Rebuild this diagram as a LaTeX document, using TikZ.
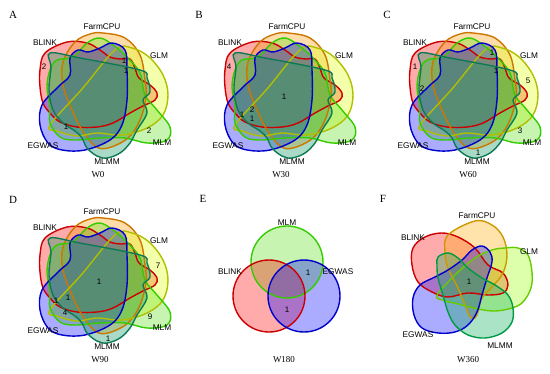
\documentclass[tikz,border=0pt]{standalone}
\usepackage{fontspec}
\setmainfont{Liberation Serif}
\newfontfamily\lsans{Liberation Sans}
\definecolor{cBL}{HTML}{CC0000}\definecolor{fBL}{HTML}{FF0000}
\definecolor{cFC}{HTML}{CC7700}\definecolor{fFC}{HTML}{FF9900}
\definecolor{cGL}{HTML}{B0BF00}\definecolor{fGL}{HTML}{DDFF00}
\definecolor{cML}{HTML}{33CC00}\definecolor{fML}{HTML}{55DD11}
\definecolor{cMM}{HTML}{0E7A55}\definecolor{fMM}{HTML}{119966}
\definecolor{cEG}{HTML}{0000CC}\definecolor{fEG}{HTML}{0000FF}
\definecolor{cFF}{HTML}{CC9900}\definecolor{fFF}{HTML}{FFAA00}
\definecolor{cFG}{HTML}{66CC00}\definecolor{fFG}{HTML}{99FF00}
\definecolor{cFM}{HTML}{009944}\definecolor{fFM}{HTML}{00AA55}
\tikzset{
  setlab/.style={font=\lsans\fontsize{8.3}{9}\selectfont, inner sep=0pt},
  num/.style={font=\lsans\fontsize{8}{9}\selectfont, inner sep=0pt},
  ttl/.style={font=\fontsize{9}{10}\selectfont, inner sep=0pt},
  panel/.style={font=\fontsize{11}{12}\selectfont, inner sep=0pt},
  FBL/.style={fill=fBL, fill opacity=0.33}, SBL/.style={draw=cBL, line width=1.4pt},
  FFC/.style={fill=fFC, fill opacity=0.33}, SFC/.style={draw=cFC, line width=1.4pt},
  FGL/.style={fill=fGL, fill opacity=0.33}, SGL/.style={draw=cGL, line width=1.4pt},
  FML/.style={fill=fML, fill opacity=0.33}, SML/.style={draw=cML, line width=1.4pt},
  FMM/.style={fill=fMM, fill opacity=0.36}, SMM/.style={draw=cMM, line width=1.4pt},
  FEG/.style={fill=fEG, fill opacity=0.33}, SEG/.style={draw=cEG, line width=1.4pt},
  FFF/.style={fill=fFF, fill opacity=0.33}, SFF/.style={draw=cFF, line width=1.4pt},
  FFG/.style={fill=fFG, fill opacity=0.33}, SFG/.style={draw=cFG, line width=1.4pt},
  FFM/.style={fill=fFM, fill opacity=0.33}, SFM/.style={draw=cFM, line width=1.4pt},
  wave/.style={smooth cycle, tension=0.6},
}
\newcommand\sixpaths[1]{%
  \path[#1BL] plot[wave] coordinates {(-30,-53) (-10,-52) (3,-45) (13,-38) (24,-36) (33,-36) (38,-27) (42,-17) (53,-10) (60,-2) (58,5) (46,11) (33,18) (16,28) (0,32) (-20,32) (-37,27) (-47,18) (-54,8) (-57,-8) (-57,-25) (-52,-42)};
  \path[#1FC] plot[wave] coordinates {(6,-62) (28,-57) (43,-40) (48,-15) (49,2) (43,25) (31,43) (11,53) (-2,51) (-15,35) (-25,15) (-34,-10) (-34,-33) (-22,-53) (-7,-61)};
  \path[#1GL] plot[wave] coordinates {(18,-45) (35,-47) (52,-38) (66,-20) (71,0) (66,20) (50,33) (25,40) (0,38) (-20,41) (-40,36) (-47,30) (-15,-6)};
  \path[#1ML] plot[wave] coordinates {(3,-57) (16,-50) (30,-38) (43,-22) (48,0) (60,15) (73,32) (70,45) (50,48) (28,43) (3,43) (-22,45) (-37,42) (-47,28) (-47,12) (-50,-8) (-47,-25) (-40,-35) (-24,-38) (-10,-52)};
  \path[#1EG] plot[wave] coordinates {(-55,10) (-57,30) (-49,48) (-35,55) (-12,55) (13,45) (25,30) (30,5) (30,-25) (28,-45) (15,-52) (3,-47) (-9,-43) (-19,-45) (-27,-37) (-27,-20) (-39,-8)};
  \path[#1MM] plot[wave] coordinates {(-47,-42) (-17,-37) (43,-25) (50,-17) (53,-3) (46,5) (50,18) (40,35) (33,48) (23,58) (10,63) (0,61) (-10,53) (-15,43) (-22,36) (-34,28) (-44,15) (-48,-5) (-46,-28)};
}
\newcommand\fivepaths[1]{%
  \path[#1BL] plot[wave] coordinates {(144,189) (180,156) (231,144) (279,156) (330,189) (369,240) (414,264) (429,300) (414,324) (369,330) (309,324) (249,336) (201,321) (159,291) (141,240)};
  \path[#1FF] plot[wave] coordinates {(330,108) (381,120) (414,156) (426,210) (414,264) (381,306) (351,339) (339,381) (330,399) (315,396) (300,360) (279,309) (249,249) (240,201) (249,150)};
  \path[#1FG] plot[wave] coordinates {(216,330) (270,270) (330,219) (381,195) (420,189) (459,189) (489,210) (501,261) (498,309) (474,351) (441,369) (390,378) (339,372) (279,357) (231,345)};
  \path[#1EG] plot[wave] coordinates {(351,183) (375,201) (381,231) (366,279) (351,330) (336,381) (309,420) (270,441) (219,444) (171,429) (147,390) (144,339) (165,300) (210,276) (249,255) (291,225) (321,195)};
  \path[#1FM] plot[wave] coordinates {(219,216) (249,204) (279,219) (309,249) (351,279) (390,300) (429,330) (444,369) (441,411) (411,444) (360,459) (309,450) (270,420) (249,381) (234,330) (219,279) (216,240)};
}
\newcommand\threepaths[1]{%
  \path[#1ML] (287,262) circle (36);
  \path[#1BL] (269,296) circle (36);
  \path[#1EG] (304,296) circle (36);
}
\tikzset{
  sixvenn/.pic={
    \sixpaths{F}
    \sixpaths{S}
    \node[setlab] (-blink) at (-52,-52) {BLINK};
    \node[setlab] (-farm) at (5,-68) {FarmCPU};
    \node[setlab] (-glm) at (62,-39) {GLM};
    \node[setlab] (-mlm) at (65,48) {MLM};
    \node[setlab] (-mlmm) at (10,67) {MLMM};
    \node[setlab] (-egwas) at (-54,51) {EGWAS};
  }
}
\begin{document}
\begin{tikzpicture}[x=1pt,y=-1pt]
\useasboundingbox (0,0) rectangle (550,373);
% panel letters
\node[panel] (LA) at (13,15) {A};
\node[panel] (LB) at (199,15) {B};
\node[panel] (LC) at (387,15) {C};
\node[panel] (LD) at (13,200) {D};
\node[panel] (LE) at (203,199) {E};
\node[panel] (LF) at (383,199) {F};
% six-set panels
\pic (A) at (97,95) {sixvenn};
\pic (B) at (282,95) {sixvenn};
\pic (C) at (467,95) {sixvenn};
\pic (D) at (97,280) {sixvenn};
% numbers A
\node[num] (a1) at (44,67) {2};
\node[num] (a2) at (124,61) {1};
\node[num] (a3) at (126,71) {1};
\node[num] (a4) at (66,127) {1};
\node[num] (a5) at (149,131) {2};
% numbers B
\node[num] (b1) at (229,67) {4};
\node[num] (b2) at (284,97) {1};
\node[num] (b3) at (252,110) {2};
\node[num] (b4) at (242,115) {1};
\node[num] (b5) at (252,119) {1};
% numbers C
\node[num] (c1) at (415,67) {1};
\node[num] (c2) at (422,89) {2};
\node[num] (c3) at (492,53) {1};
\node[num] (c4) at (496,71) {1};
\node[num] (c5) at (528,81) {5};
\node[num] (c6) at (520,131) {3};
\node[num] (c7) at (478,153) {1};
% numbers D
\node[num] (d1) at (99,282) {1};
\node[num] (d2) at (158,266) {7};
\node[num] (d3) at (150,317) {9};
\node[num] (d4) at (56,301) {1};
\node[num] (d5) at (68,298) {1};
\node[num] (d6) at (65,313) {4};
\node[num] (d7) at (108,339) {1};
% panel E
\threepaths{F}
\threepaths{S}
\node[setlab] (e-mlm) at (287,223) {MLM};
\node[setlab] (e-blink) at (230,272) {BLINK};
\node[setlab] (e-egwas) at (338,272) {EGWAS};
\node[num] (e1) at (308,273) {1};
\node[num] (e2) at (287,310) {1};
% panel F
\begin{scope}[shift={(365,185)}, x=0.3333pt, y=-0.3333pt]
\fivepaths{F}
\fivepaths{S}
\end{scope}
\node[setlab] (f-farm) at (477,216) {FarmCPU};
\node[setlab] (f-blink) at (413,238) {BLINK};
\node[setlab] (f-glm) at (529,252) {GLM};
\node[setlab] (f-egwas) at (418,335) {EGWAS};
\node[setlab] (f-mlmm) at (500,346) {MLMM};
\node[num] (f1) at (469,282) {1};
% titles
\node[ttl] (tA) at (98,175) {W0};
\node[ttl] (tB) at (281,175) {W30};
\node[ttl] (tC) at (468,175) {W60};
\node[ttl] (tD) at (100,360) {W90};
\node[ttl] (tE) at (284,360) {W180};
\node[ttl] (tF) at (468,360) {W360};
\end{tikzpicture}
\end{document}
